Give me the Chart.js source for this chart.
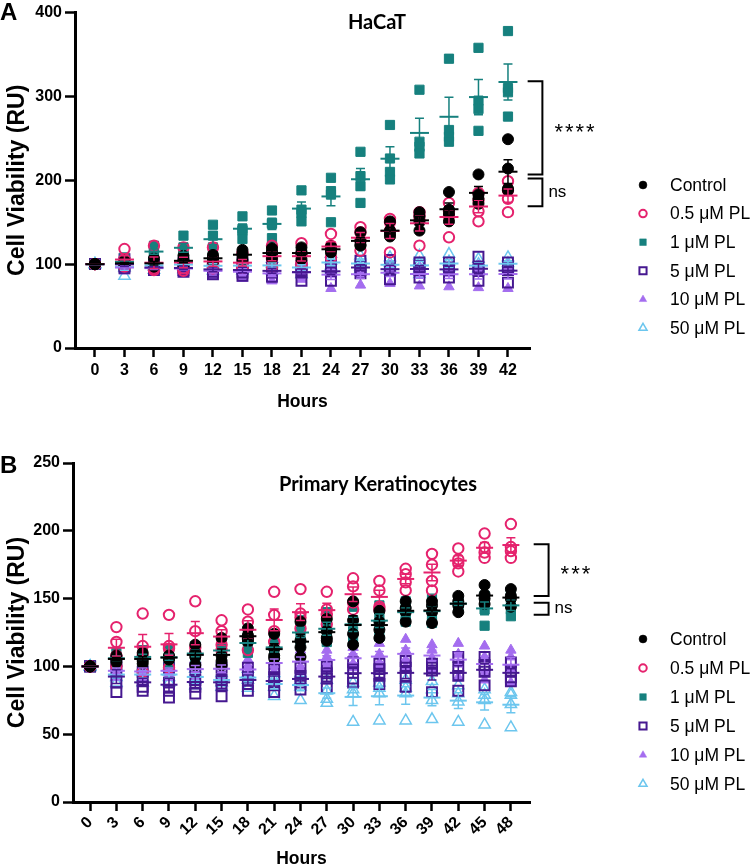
<!DOCTYPE html>
<html>
<head>
<meta charset="utf-8">
<script src="https://cdn.jsdelivr.net/npm/chart.js@4.4.1/dist/chart.umd.min.js"></script>
<style>
  body{margin:0;background:#fff;}
  #wrap{position:relative;width:750px;height:868px;}
  canvas{position:absolute;left:0;}
  #a{top:0;}
  #b{top:414px;}
</style>
</head>
<body>
<div id="wrap">
  <canvas id="a" width="750" height="414"></canvas>
  <canvas id="b" width="750" height="454"></canvas>
</div>
<script>
// ---- data (4 replicates per time point) ----
const groupNames = ['Control','0.5 μM PL','1 μM PL','5 μM PL','10 μM PL','50 μM PL'];

// Panel A: HaCaT
const hoursA = [0,3,6,9,12,15,18,21,24,27,30,33,36,39,42];
const controlA = [[100,100,100,100],[104,101,100,99],[107,101,99,97],[110,105,102,99],[111,108,106,103],[117,113,110,105],[119,115,112,107],[120,115,112,106],[121,119,117,114],[138,128,123,122],[151,140,136,133],[162,157,150,140],[186,165,160,151],[207,183,178,172],[249,214,190,188]];
const pl05A = [[100,100,100,100],[118,106,101,97],[122,97,95,93],[120,101,95,92],[120,101,97,95],[113,101,97,96],[122,113,106,97],[125,112,102,99],[136,122,118,108],[144,138,128,116],[154,150,140,114],[162,158,153,122],[173,163,157,132],[185,176,163,151],[199,188,178,162]];
const pl1A = [[100,100,100,100],[108,104,101,98],[122,118,112,108],[134,120,114,110],[147,134,120,118],[157,142,140,130],[164,149,148,131],[188,165,161,151],[203,187,183,150],[234,205,193,173],[266,226,210,201],[308,246,240,232],[345,260,252,246],[358,295,285,259],[378,310,305,276]];
const pl5A = [[100,100,100,100],[106,101,97,95],[99,97,95,93],[101,97,93,91],[101,95,91,88],[101,95,90,86],[98,95,90,85],[98,94,90,80],[99,95,92,80],[104,98,93,89],[105,96,93,82],[102,98,93,84],[102,96,93,84],[109,96,93,80],[102,96,93,78]];
const pl10A = [[100,100,100,100],[100,97,95,92],[99,96,94,92],[100,96,93,90],[98,94,90,86],[98,94,89,83],[97,92,87,80],[98,93,88,82],[98,93,88,71],[97,92,88,75],[98,94,90,77],[97,93,89,74],[97,93,89,73],[98,93,89,72],[98,94,90,71]];
const pl50A = [[100,100,100,100],[104,100,96,86],[104,100,97,93],[106,101,97,94],[104,100,96,92],[105,100,96,92],[106,100,96,92],[104,98,94,88],[112,104,98,94],[110,102,97,94],[108,101,96,92],[110,101,95,88],[112,103,96,92],[106,100,95,92],[108,101,98,95]];
const yTicksA = [0,100,200,300,400];
const sigA = [{top:318,bottom:207,label:'****'},{top:202,bottom:169,label:'ns'}];

// Panel B: primary keratinocytes
const hoursB = [0,3,6,9,12,15,18,21,24,27,30,33,36,39,42,45,48];
const controlB = [[100,100,100,100],[108,106,105,103],[110,106,104,102],[108,107,106,105],[116,110,107,101],[121,108,104,101],[128,123,120,118],[124,113,108,106],[133,119,114,107],[135,126,121,119],[148,134,124,116],[141,133,127,121],[148,143,140,133],[148,145,140,132],[152,148,145,140],[160,153,150,146],[157,152,150,144]];
const pl05B = [[100,100,100,100],[129,118,108,100],[139,115,108,96],[138,115,113,99],[148,126,114,110],[134,126,116,112],[142,133,121,112],[155,138,126,118],[157,139,136,128],[155,142,138,131],[165,159,147,142],[163,156,144,142],[172,168,162,156],[183,175,163,156],[187,179,176,170],[198,188,184,180],[205,188,185,180]];
const pl1B = [[100,100,100,100],[110,107,105,102],[112,108,105,103],[112,108,105,102],[115,111,108,104],[118,113,110,106],[124,120,115,110],[122,116,112,106],[134,127,122,117],[140,130,123,118],[144,134,126,120],[145,138,130,122],[148,142,137,133],[150,143,138,132],[150,147,145,143],[152,147,142,130],[155,146,142,137]];
const pl5B = [[100,100,100,100],[104,97,88,81],[96,90,85,82],[99,88,82,77],[99,90,85,80],[99,90,86,78],[99,92,87,82],[98,92,86,81],[99,93,88,83],[100,95,91,84],[103,98,91,88],[102,98,93,87],[104,99,93,85],[102,99,97,81],[107,99,93,82],[107,101,96,86],[103,97,92,89]];
const pl10B = [[100,100,100,100],[102,98,95,92],[102,98,95,90],[102,98,95,92],[104,100,96,92],[105,100,96,92],[105,100,96,90],[110,104,100,96],[112,106,100,96],[112,107,102,98],[114,109,102,99],[117,109,103,100],[120,112,105,100],[116,112,106,98],[117,109,102,92],[115,107,95,90],[112,107,98,88]];
const pl50B = [[100,100,100,100],[100,96,92,88],[100,96,92,88],[100,96,92,88],[98,95,90,86],[95,92,88,85],[98,95,90,84],[95,90,85,78],[95,90,85,75],[90,82,76,73],[88,83,80,59],[88,84,80,60],[90,84,80,60],[89,83,75,61],[86,80,74,59],[83,79,75,57],[81,79,72,55]];
const yTicksB = [0,50,100,150,200,250];
const sigB = [{top:190,bottom:152,label:'***'},{top:147,bottom:138,label:'ns'}];

// ---- looks ----
const looks = [
  {color:'#000000', style:'circle',   fill:true,  r:5.5, bw:1},
  {color:'#E5226D', style:'circle',   fill:false, r:5.2, bw:2},
  {color:'#16807E', style:'rect',     fill:true,  r:6.5, bw:1},
  {color:'#461890', style:'rect',     fill:false, r:7,   bw:2},
  {color:'#A46DEF', style:'triangle', fill:true,  r:6,   bw:1},
  {color:'#6CC6EE', style:'triangle', fill:false, r:6.5, bw:1.5}
];
const tickFont = {family:'"Liberation Sans", Arial, sans-serif', size:16, weight:'bold'};

function meanSem(v){
  const n=v.length, m=v.reduce((a,b)=>a+b,0)/n;
  const sd=Math.sqrt(v.reduce((a,b)=>a+(b-m)*(b-m),0)/(n-1));
  return [m, sd/Math.sqrt(n)];
}

function points(hours, reps){
  const out=[];
  hours.forEach((h,i)=>reps[i].forEach(v=>out.push({x:h,y:v})));
  return out;
}

function extras(p){
  return {
    id:'extras',
    afterDatasetsDraw(chart){
      const {ctx, scales:{x,y}} = chart;
      ctx.save();
      // mean +/- SEM, last group first so Control ends on top
      for(let g=p.groups.length-1; g>=0; g--){
        ctx.strokeStyle=looks[g].color;
        p.hours.forEach((h,i)=>{
          const [m,se]=meanSem(p.groups[g][i]);
          const px=x.getPixelForValue(h), pm=y.getPixelForValue(m);
          if(se>0){
            const pt=y.getPixelForValue(m+se), pb=y.getPixelForValue(m-se);
            ctx.lineWidth=1.5;
            ctx.beginPath();
            ctx.moveTo(px,pt); ctx.lineTo(px,pb);
            ctx.moveTo(px-4.5,pt); ctx.lineTo(px+4.5,pt);
            ctx.moveTo(px-4.5,pb); ctx.lineTo(px+4.5,pb);
            ctx.stroke();
          }
          ctx.lineWidth=2;
          ctx.beginPath(); ctx.moveTo(px-p.meanHalf,pm); ctx.lineTo(px+p.meanHalf,pm); ctx.stroke();
        });
      }
      ctx.restore();
    },
    afterDraw(chart){
      const {ctx, scales:{x,y}} = chart;
      ctx.save();
      // significance brackets
      ctx.strokeStyle='#000'; ctx.fillStyle='#000'; ctx.lineWidth=2;
      const bx=x.getPixelForValue(p.bracketX), ax=x.getPixelForValue(p.armX);
      p.sig.forEach(s=>{
        const t=y.getPixelForValue(s.top), b=y.getPixelForValue(s.bottom);
        ctx.beginPath(); ctx.moveTo(ax,t); ctx.lineTo(bx,t); ctx.lineTo(bx,b); ctx.lineTo(ax,b); ctx.stroke();
        ctx.textBaseline='middle'; ctx.textAlign='left';
        if(s.label==='ns'){
          ctx.font='17px "Liberation Sans", Arial, sans-serif';
          ctx.fillText(s.label, bx+6, (t+b)/2);
        } else {
          ctx.font='22px "Liberation Sans", Arial, sans-serif';
          ctx.letterSpacing='2px';
          ctx.fillText(s.label, bx+12, (t+b)/2+5);
          ctx.letterSpacing='0px';
        }
      });
      // panel title and letter
      ctx.textAlign='center'; ctx.textBaseline='middle';
      ctx.font='bold 20px Lato, "Open Sans", sans-serif';
      ctx.fillText(p.title, p.titleX, p.titleY);
      ctx.textAlign='left'; ctx.textBaseline='alphabetic';
      ctx.font='bold 24px "Liberation Sans", Arial, sans-serif';
      ctx.fillText(p.letter, 0, p.letterY);
      // legend
      groupNames.forEach((name,i)=>{
        const yy=p.legendTop+i*p.legendStep, lk=looks[i];
        ctx.fillStyle=lk.fill?lk.color:'rgba(0,0,0,0)';
        ctx.strokeStyle=lk.color; ctx.lineWidth=lk.fill?0.5:lk.bw;
        Chart.helpers.drawPoint(ctx,{pointStyle:lk.style, radius:lk.r*0.72, borderWidth:ctx.lineWidth, rotation:0}, p.legendX, yy);
        ctx.fillStyle='#000';
        ctx.font='17.5px "Liberation Sans", Arial, sans-serif';
        ctx.textBaseline='middle';
        ctx.fillText(name, p.legendX+27, yy+1);
      });
      ctx.restore();
    }
  };
}

function makeChart(id, p){
  const datasets = p.groups.map((reps,g)=>({
    label:groupNames[g],
    data:points(p.hours, reps),
    pointStyle:looks[g].style,
    pointRadius:looks[g].r,
    pointBorderWidth:looks[g].bw,
    borderColor:looks[g].color,
    backgroundColor:looks[g].fill?looks[g].color:'rgba(0,0,0,0)'
  }));
  new Chart(document.getElementById(id),{
    type:'scatter',
    data:{datasets},
    options:{
      responsive:false, animation:false, events:[],
      layout:{padding:{left:0, top:p.padTop, right:220, bottom:0}},
      plugins:{legend:{display:false}, tooltip:{enabled:false}},
      scales:{
        x:{
          type:'linear', min:p.xMin, max:p.xMax,
          afterBuildTicks:s=>{ s.ticks=p.hours.map(v=>({value:v})); },
          afterFit:s=>{ s.height=66; },
          ticks:{font:tickFont, color:'#000', padding:p.rot?2:4, autoSkip:false, minRotation:p.rot, maxRotation:p.rot},
          grid:{drawOnChartArea:false, tickLength:9, tickWidth:2.5, tickColor:'#000'},
          border:{color:'#000', width:3},
          title:{display:true, text:'Hours', color:'#000', font:{family:'"Liberation Sans", Arial, sans-serif', size:17.5, weight:'bold', lineHeight:1}, padding:{top:0, bottom:p.titlePad}}
        },
        y:{
          min:p.yTicks[0], max:p.yTicks[p.yTicks.length-1],
          afterBuildTicks:s=>{ s.ticks=p.yTicks.map(v=>({value:v})); },
          afterFit:s=>{ s.width=p.yWidth; },
          ticks:{font:tickFont, color:'#000', padding:3},
          grid:{drawOnChartArea:false, tickLength:10, tickWidth:2.5, tickColor:'#000'},
          border:{color:'#000', width:3},
          title:{display:true, text:'Cell Viability (RU)', color:'#000', font:{family:'"Liberation Sans", Arial, sans-serif', size:23, weight:'bold', lineHeight:1.2}, padding:{top:4, bottom:0}}
        }
      }
    },
    plugins:[extras(p)]
  });
}

makeChart('a',{
  hours:hoursA, groups:[controlA,pl05A,pl1A,pl5A,pl10A,pl50A], yTicks:yTicksA, sig:sigA,
  xMin:-2.03, xMax:44.24, rot:0, padTop:10, yWidth:75, titlePad:3.5,
  bracketX:45.5, armX:44, meanHalf:9.5,
  title:'HaCaT', titleX:377, titleY:23, letter:'A', letterY:20,
  legendX:643, legendTop:185, legendStep:28.6
});
makeChart('b',{
  hours:hoursB, groups:[controlB,pl05B,pl1B,pl5B,pl10B,pl50B], yTicks:yTicksB, sig:sigB,
  xMin:-1.95, xMax:50.18, rot:45, padTop:49, yWidth:73, titlePad:0,
  bracketX:52.3, armX:50.6, meanHalf:8.5,
  title:'Primary Keratinocytes', titleX:378, titleY:71, letter:'B', letterY:59,
  legendX:643, legendTop:225, legendStep:29
});
</script>
</body>
</html>
